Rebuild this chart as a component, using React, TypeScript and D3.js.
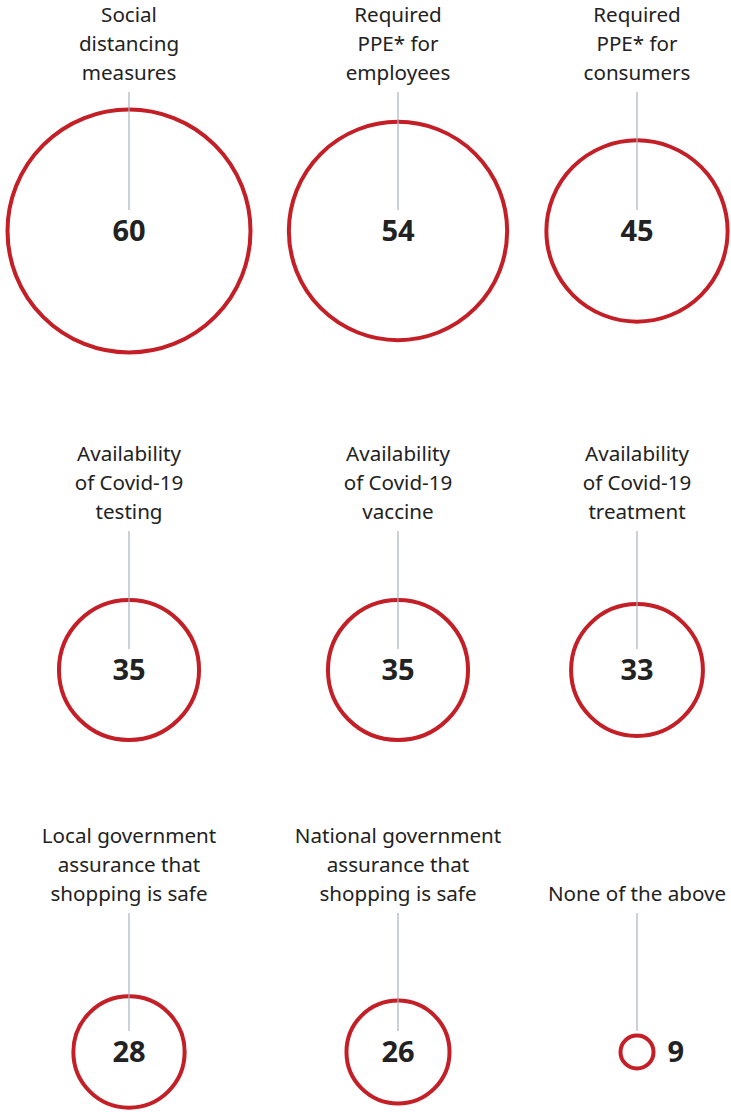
import { useEffect, useRef } from "react";
import * as d3 from "d3";

// survey answers, share of respondents
const categories = [
  ["Social", "distancing", "measures"],
  ["Required", "PPE* for", "employees"],
  ["Required", "PPE* for", "consumers"],
  ["Availability", "of Covid-19", "testing"],
  ["Availability", "of Covid-19", "vaccine"],
  ["Availability", "of Covid-19", "treatment"],
  ["Local government", "assurance that", "shopping is safe"],
  ["National government", "assurance that", "shopping is safe"],
  ["None of the above"],
];
const values = [60, 54, 45, 35, 35, 33, 28, 26, 9];

const W = 731;
const H = 1112;
const colX = [129, 398, 637];
const rowY = [231, 670, 1052];
const lineH = 29;
const font = "'Noto Sans', 'Open Sans', sans-serif";
const red = "#c41f26";

export default function App() {
  const ref = useRef<SVGSVGElement>(null);
  useEffect(() => {
    if (!ref.current) return;
    const svg = d3.select(ref.current);
    svg.selectAll("*").remove();
    svg.attr("viewBox", `0 0 ${W} ${H}`);

    const r = d3.scaleLinear().domain([0, 60]).range([0, 123.5]);
    const sw = 4;

    values.forEach((v, i) => {
      const cx = colX[i % 3];
      const cy = rowY[Math.floor(i / 3)];
      const lines = categories[i];
      const lastBase = cy - 151;
      const g = svg.append("g");

      lines.forEach((t, j) => {
        g.append("text")
          .attr("x", cx)
          .attr("y", lastBase - (lines.length - 1 - j) * lineH)
          .attr("text-anchor", "middle")
          .attr("font-family", font)
          .attr("font-size", 20.6)
          .attr("fill", "#222")
          .text(t);
      });

      const ro = r(v);
      g.append("circle")
        .attr("cx", cx).attr("cy", cy)
        .attr("r", ro - sw / 2)
        .attr("fill", "none")
        .attr("stroke", red)
        .attr("stroke-width", sw);

      g.append("line")
        .attr("x1", cx).attr("x2", cx)
        .attr("y1", lastBase + 12)
        .attr("y2", cy - 21)
        .attr("stroke", "#aab2ba")
        .attr("stroke-width", 1.2);

      const inside = ro > 30;
      g.append("text")
        .attr("x", inside ? cx : cx + ro + 12)
        .attr("y", cy)
        .attr("dy", "0.36em")
        .attr("text-anchor", inside ? "middle" : "start")
        .attr("font-family", font)
        .attr("font-weight", 700)
        .attr("font-size", 29)
        .attr("fill", "#222")
        .text(v);
    });
  }, []);
  return (
    <svg
      ref={ref}
      width={W}
      height={H}
      style={{ position: "absolute", left: 0, top: 0, background: "#fff" }}
    />
  );
}
